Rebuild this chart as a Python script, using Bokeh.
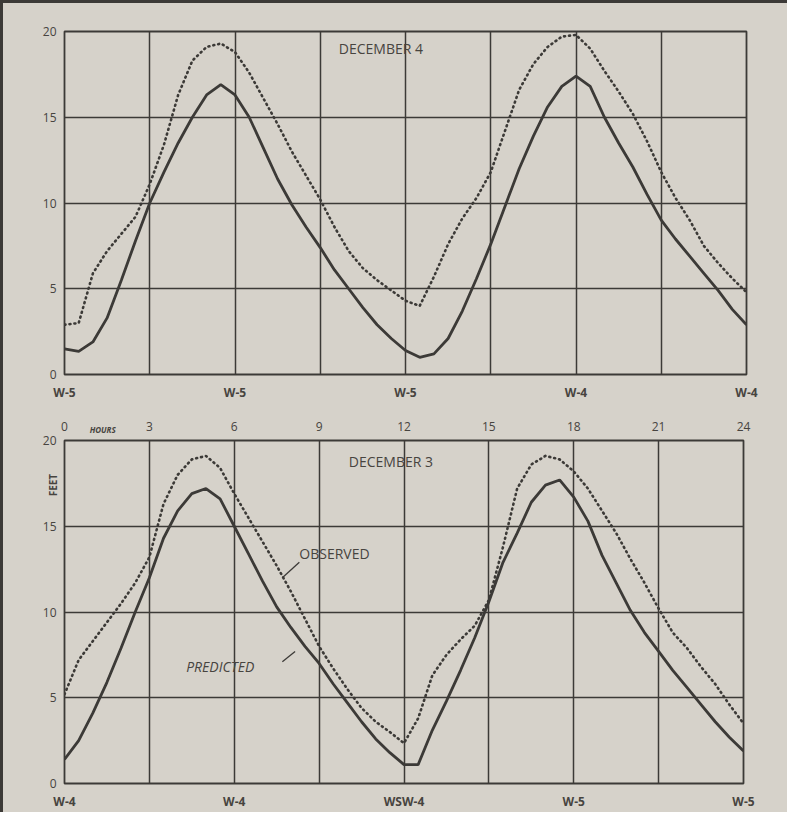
from bokeh.plotting import figure
from bokeh.models import Range1d, FixedTicker, LinearAxis, Label
from bokeh.layouts import column
from bokeh.embed import file_html
from bokeh.resources import INLINE

# ---------------- data ----------------
hours = [i * 0.5 for i in range(49)]

dec4_predicted = [1.5, 1.35, 1.9, 3.3, 5.5, 7.8, 10.0, 11.8, 13.5, 15.0, 16.3, 16.9, 16.3,
                  15.0, 13.2, 11.4, 9.9, 8.6, 7.4, 6.1, 5.0, 3.9, 2.9, 2.1, 1.4, 1.0,
                  1.2, 2.1, 3.7, 5.6, 7.6, 9.8, 12.0, 13.9, 15.6, 16.8, 17.4, 16.8, 15.0,
                  13.5, 12.1, 10.5, 9.0, 7.9, 6.9, 5.9, 4.9, 3.8, 2.9]
dec4_observed = [2.9, 3.0, 5.9, 7.2, 8.2, 9.2, 11.1, 13.4, 16.3, 18.3, 19.1, 19.3, 18.8,
                 17.6, 16.1, 14.6, 13.0, 11.6, 10.2, 8.6, 7.2, 6.2, 5.5, 4.9, 4.3, 4.0,
                 5.7, 7.6, 9.1, 10.3, 11.8, 14.2, 16.6, 18.1, 19.1, 19.7, 19.8, 19.0, 17.7,
                 16.5, 15.2, 13.6, 11.8, 10.3, 9.0, 7.5, 6.5, 5.6, 4.8]
dec3_predicted = [1.4, 2.5, 4.1, 5.9, 7.9, 10.0, 12.0, 14.3, 15.9, 16.9, 17.2, 16.6, 15.0,
                  13.4, 11.8, 10.3, 9.1, 8.0, 7.0, 5.8, 4.7, 3.6, 2.6, 1.8, 1.1, 1.1,
                  3.1, 4.8, 6.6, 8.5, 10.6, 12.9, 14.6, 16.4, 17.4, 17.7, 16.7, 15.3, 13.3,
                  11.7, 10.1, 8.8, 7.7, 6.6, 5.6, 4.6, 3.6, 2.7, 1.9]
dec3_observed = [5.2, 7.2, 8.3, 9.4, 10.5, 11.7, 13.2, 16.3, 18.0, 18.9, 19.1, 18.4, 16.9,
                 15.5, 14.1, 12.7, 11.2, 9.6, 8.0, 6.7, 5.5, 4.4, 3.6, 3.0, 2.35, 3.8,
                 6.3, 7.5, 8.4, 9.2, 10.7, 13.8, 17.2, 18.6, 19.1, 18.9, 18.2, 17.2, 15.9,
                 14.6, 13.1, 11.7, 10.2, 8.8, 7.9, 6.8, 5.8, 4.6, 3.5]

hour_ticks = [0, 3, 6, 9, 12, 15, 18, 21, 24]
feet_ticks = [0, 5, 10, 15, 20]
wind_hours = [0, 6, 12, 18, 24]
dec4_wind = ["W-5", "W-5", "W-5", "W-4", "W-4"]
dec3_wind = ["W-4", "W-4", "WSW-4", "W-5", "W-5"]

# ---------------- style ----------------
BG = "#d6d2ca"
INK = "#3c3a37"
TXT = "#47443f"
FONT = "Open Sans"


def bare_axis(ax, size="12px", style="normal", standoff=2):
    ax.axis_line_color = None
    ax.major_tick_line_color = None
    ax.minor_tick_line_color = None
    ax.major_label_text_font = FONT
    ax.major_label_text_color = TXT
    ax.major_label_text_font_size = size
    ax.major_label_text_font_style = style
    ax.major_label_standoff = standoff


def make_panel(fw, fh, bl, br, bt, bb, winds):
    p = figure(frame_width=fw, frame_height=fh, min_border_left=bl, min_border_right=br,
               min_border_top=bt, min_border_bottom=bb,
               x_range=Range1d(0, 24), y_range=Range1d(0, 20),
               output_backend="svg", toolbar_location=None,
               background_fill_color=BG, border_fill_color=BG)
    p.outline_line_color = INK
    p.outline_line_width = 1.8
    p.xgrid.ticker = FixedTicker(ticks=hour_ticks)
    p.ygrid.ticker = FixedTicker(ticks=feet_ticks)
    for g in (p.xgrid, p.ygrid):
        g.grid_line_color = INK
        g.grid_line_width = 1.5
        g.grid_line_alpha = 1.0
    p.yaxis.ticker = FixedTicker(ticks=feet_ticks)
    p.xaxis.ticker = FixedTicker(ticks=wind_hours)
    p.xaxis.major_label_overrides = {h: w for h, w in zip(wind_hours, winds)}
    bare_axis(p.yaxis[0], "12px", "normal", 2)
    bare_axis(p.xaxis[0], "12px", "bold", 3)
    return p


def curves(p, observed, predicted):
    p.line(hours, observed, line_color=INK, line_width=2.6, line_dash="1 4", line_cap="round")
    p.line(hours, predicted, line_color=INK, line_width=2.8)


def note(p, x, y, text, align="center", style="normal", size="14px"):
    p.add_layout(Label(x=x, y=y, text=text, text_align=align, text_baseline="middle",
                       text_font=FONT, text_font_size=size, text_font_style=style,
                       text_color=TXT))


# ---------------- top panel: December 4 ----------------
p1 = make_panel(682, 343, 55, 47, 28, 23, dec4_wind)
curves(p1, dec4_observed, dec4_predicted)
note(p1, 11.2, 19.0, "DECEMBER  4")

# ---------------- bottom panel: December 3 ----------------
p2 = make_panel(679, 343, 61, 44, 37, 21, dec3_wind)

hours_axis = LinearAxis(ticker=FixedTicker(ticks=[1.35]), major_label_overrides={1.35: "HOURS"})
bare_axis(hours_axis, "8px", "bold italic", 0)
p2.add_layout(hours_axis, "above")
top_axis = LinearAxis(ticker=FixedTicker(ticks=hour_ticks))
bare_axis(top_axis, "12px", "normal", -16)
p2.add_layout(top_axis, "above")

feet_axis = LinearAxis(ticker=FixedTicker(ticks=[17.4]), major_label_overrides={17.4: "FEET"},
                       major_label_orientation="vertical")
bare_axis(feet_axis, "10px", "bold", -27)
p2.add_layout(feet_axis, "left")

curves(p2, dec3_observed, dec3_predicted)
note(p2, 11.6, 18.8, "DECEMBER  3")
note(p2, 8.3, 13.4, "OBSERVED", align="left")
note(p2, 4.3, 6.8, "PREDICTED", align="left", style="italic")
p2.segment(x0=[8.3, 7.7], y0=[12.9, 7.1], x1=[7.7, 8.15], y1=[12.0, 7.7],
           line_color=INK, line_width=1.3)

layout = column(p1, p2, spacing=0,
                styles={"border-left": f"3px solid {INK}", "border-top": f"3px solid {INK}",
                        "background-color": BG})

open("out.html", "w").write(file_html(layout, INLINE))
